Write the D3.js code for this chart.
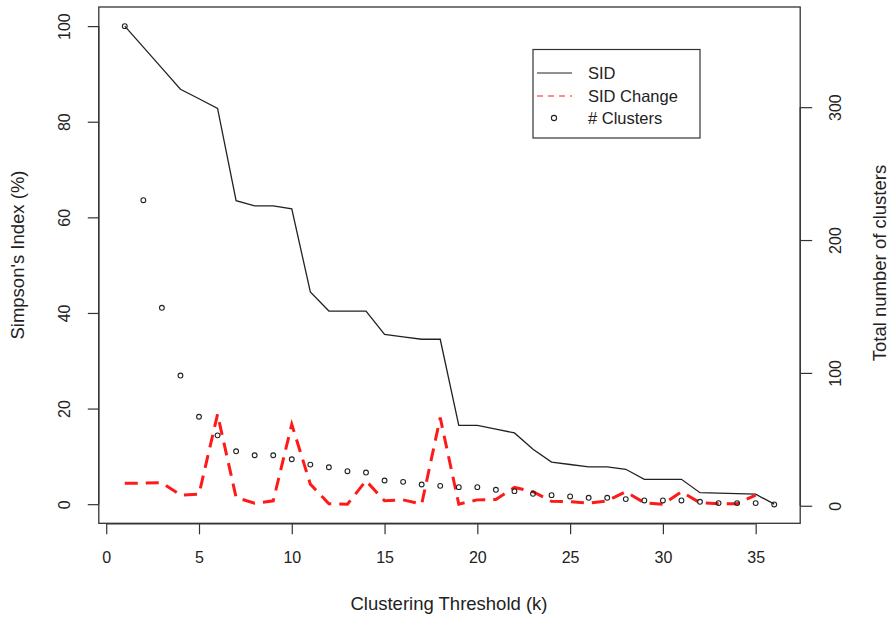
<!DOCTYPE html>
<html><head><meta charset="utf-8">
<script src="https://cdn.jsdelivr.net/npm/d3@7"></script>
<style>body{margin:0;background:#fff}text{font-family:"Liberation Sans",Arial,sans-serif;fill:#222}</style>
</head><body><svg id="c" width="889" height="618"></svg>
<script>
const thresholds = d3.range(1, 37);
const sid = [100, 95.6, 91.2, 86.8, 84.8, 82.8, 63.5, 62.4, 62.4, 61.8, 44.4, 40.4, 40.4, 40.4, 35.5, 35.0, 34.5, 34.5, 16.5, 16.5, 15.7, 14.9, 11.5, 8.8, 8.3, 7.8, 7.8, 7.3, 5.2, 5.2, 5.2, 2.4, 2.3, 2.2, 2.1, 0];
const sidChange = [4.4, 4.4, 4.5, 1.9, 2.1, 18.8, 1.4, 0.2, 0.7, 16.7, 4.2, 0.1, 0, 4.9, 0.7, 0.9, 0, 18.1, 0, 0.9, 1.0, 3.5, 2.6, 0.6, 0.5, 0.2, 0.7, 2.6, 0.3, 0, 2.6, 0.3, 0.1, 0.1, 1.9];
const clusters = [361, 230, 149, 98, 67, 53, 41, 38, 38, 35, 31, 29, 26, 25, 19, 18, 16, 15, 14, 14, 12, 11, 9, 8, 7, 6, 6, 5, 4, 4, 4, 3, 2, 2, 2, 1];
const xTicks = [0, 5, 10, 15, 20, 25, 30, 35];
const yLeftTicks = [0, 20, 40, 60, 80, 100];
const yRightTicks = [0, 100, 200, 300];
const legendLabels = ["SID", "SID Change", "# Clusters"];

const svg = d3.select("#c");
const L = 98.8, R = 800.2, T = 7, B = 523.3;
const x = d3.scaleLinear().domain([-0.4, 37.4]).range([L, R]);
const yL = d3.scaleLinear().domain([-4, 104]).range([B, T]);
const yR = d3.scaleLinear().domain([-13.2, 375.4]).range([B, T]);

const fs = 16;
// x axis
const gx = svg.append("g").attr("transform", `translate(0,${B})`)
  .call(d3.axisBottom(x).tickValues(xTicks).tickSize(11).tickPadding(17).tickFormat(d3.format("d")));
gx.select(".domain").attr("d", `M${x(0)},0.5H${x(35)}`);
// left axis
const gl = svg.append("g").attr("transform", `translate(${L},0)`)
  .call(d3.axisLeft(yL).tickValues(yLeftTicks).tickSize(11).tickPadding(0).tickFormat(d3.format("d")));
gl.select(".domain").attr("d", `M0,${yL(0)}V${yL(100)}`);
gl.selectAll(".tick text").attr("x", null).attr("dy", null)
  .attr("transform", "translate(-34,0) rotate(-90)").attr("text-anchor", "middle").attr("dominant-baseline", "central");
// right axis
const gr = svg.append("g").attr("transform", `translate(${R},0)`)
  .call(d3.axisRight(yR).tickValues(yRightTicks).tickSize(12).tickPadding(0).tickFormat(d3.format("d")));
gr.select(".domain").attr("d", `M0,${yR(0)}V${yR(300)}`);
gr.selectAll(".tick text").attr("x", null).attr("dy", null)
  .attr("transform", "translate(35,0) rotate(-90)").attr("text-anchor", "middle").attr("dominant-baseline", "central");

svg.selectAll(".tick text").style("font-size", fs + "px").style("font-family", '"Liberation Sans",Arial,sans-serif').attr("fill", "#222");
svg.selectAll(".tick line, .domain").attr("stroke", "#333").attr("stroke-width", 1.2);

// box
svg.append("rect").attr("x", L).attr("y", T).attr("width", R - L).attr("height", B - T)
  .attr("fill", "none").attr("stroke", "#333").attr("stroke-width", 1.3);

// titles
svg.append("text").attr("x", 449).attr("y", 610).attr("text-anchor", "middle")
  .style("font-size", "18.5px").text("Clustering Threshold (k)");
svg.append("text").attr("transform", "translate(24,255) rotate(-90)").attr("text-anchor", "middle")
  .style("font-size", "18.5px").text("Simpson's Index (%)");
svg.append("text").attr("transform", "translate(886,263) rotate(-90)").attr("text-anchor", "middle")
  .style("font-size", "18.5px").text("Total number of clusters");

// SID line
svg.append("path").datum(sid)
  .attr("d", d3.line().x((d, i) => x(thresholds[i])).y(d => yL(d)))
  .attr("fill", "none").attr("stroke", "#222").attr("stroke-width", 1.3);
// SID change
svg.append("path").datum(sidChange)
  .attr("d", d3.line().x((d, i) => x(thresholds[i])).y(d => yL(d)))
  .attr("fill", "none").attr("stroke", "#ff1a1a").attr("stroke-width", 3).attr("stroke-dasharray", "13,8");
// clusters
svg.append("g").selectAll("circle").data(clusters).join("circle")
  .attr("cx", (d, i) => x(thresholds[i])).attr("cy", d => yR(d)).attr("r", 2.4)
  .attr("fill", "none").attr("stroke", "#222").attr("stroke-width", 1.1);

// legend
const lg = svg.append("g");
lg.append("rect").attr("x", 533).attr("y", 49.5).attr("width", 167).attr("height", 88.5)
  .attr("fill", "#fff").attr("stroke", "#333").attr("stroke-width", 1.2);
const ly = [73, 96, 118];
lg.append("line").attr("x1", 537).attr("x2", 572).attr("y1", ly[0]).attr("y2", ly[0]).attr("stroke", "#222").attr("stroke-width", 1.2);
lg.append("line").attr("x1", 537).attr("x2", 572).attr("y1", ly[1]).attr("y2", ly[1]).attr("stroke", "#ff1a1a").attr("stroke-width", 1.2).attr("stroke-dasharray", "6,5");
lg.append("circle").attr("cx", 554).attr("cy", ly[2]).attr("r", 2.6).attr("fill", "none").attr("stroke", "#222").attr("stroke-width", 1.1);
lg.selectAll("text.lt").data(legendLabels).join("text").attr("class", "lt")
  .attr("x", 588).attr("y", (d, i) => ly[i]).attr("dominant-baseline", "central")
  .style("font-size", "16.5px").text(d => d);
</script></body></html>
